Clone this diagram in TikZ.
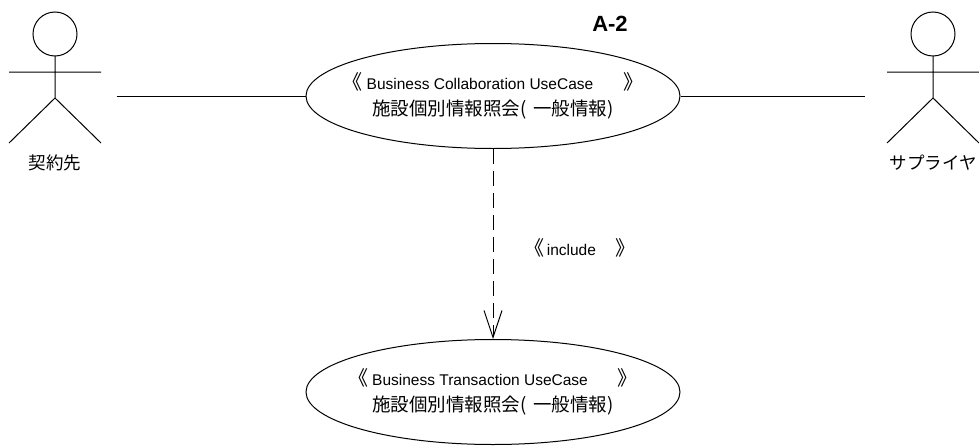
\documentclass[tikz,border=0pt]{standalone}
\usepackage{fontspec}
\setmainfont{Liberation Sans}
\newfontfamily\jpfont{Noto Sans CJK JP}
\usetikzlibrary{shapes.geometric,arrows.meta}

\begin{document}
\begin{tikzpicture}[x=1pt, y=-1pt, line width=1pt,
    usecase/.style={ellipse, draw, line width=1pt,
        minimum width=374pt, minimum height=105pt,
        inner xsep=-60pt, inner ysep=-20pt,
        align=center, font=\fontsize{15.5}{26}\selectfont},
    actor/.style={minimum width=92pt, minimum height=130pt, inner sep=0pt},
    actorlabel/.style={font=\jpfont\fontsize{17.5}{20}\selectfont}]
    \useasboundingbox (0,0) rectangle (979,447);

    \node[usecase] (bc) at (493,96)
        {{\jpfont\fontsize{20}{26}\selectfont 《}\hspace{4pt}Business Collaboration UseCase\hspace{30pt}{\jpfont\fontsize{20}{26}\selectfont 》}\\
         {\jpfont\fontsize{18.5}{26}\selectfont 施設個別情報照会(\hspace{7pt}一般情報)}};
    \node[usecase] (bt) at (493,392)
        {{\jpfont\fontsize{20}{26}\selectfont 《}\hspace{4pt}Business Transaction UseCase\hspace{30pt}{\jpfont\fontsize{20}{26}\selectfont 》}\\
         {\jpfont\fontsize{18.5}{26}\selectfont 施設個別情報照会(\hspace{7pt}一般情報)}};

    \foreach \who/\cx in {client/55, supplier/933}{
        \node[actor] (\who) at (\cx,78) {};
        \draw (\cx,34) circle[radius=22];
        \draw (\cx,56) -- (\cx,98) (\cx-46,72) -- (\cx+46,72)
              (\cx-46,143) -- (\cx,98) -- (\cx+46,143);
    }
    \node[actorlabel] (clientname) at (55,163) {契約先};
    \node[actorlabel] (suppliername) at (933,163) {サプライヤ};

    \node[font=\bfseries\fontsize{22}{22}\selectfont] (title) at (610,24) {A-2};

    \draw[shorten <=15pt] (client.east |- bc.west) -- (bc.west);
    \draw[shorten >=22pt] (bc.east) -- (supplier.west |- bc.east);
    \draw[dash pattern=on 15pt off 7pt, -{Straight Barb[length=27pt, width=18pt]}]
        (bc.south) -- (bt.north)
        node[pos=0.52, right=28pt, font=\fontsize{15.5}{18}\selectfont]
        {{\jpfont\fontsize{20}{20}\selectfont 《}\hspace{2pt}include\hspace{20pt}{\jpfont\fontsize{20}{20}\selectfont 》}};
\end{tikzpicture}
\end{document}
